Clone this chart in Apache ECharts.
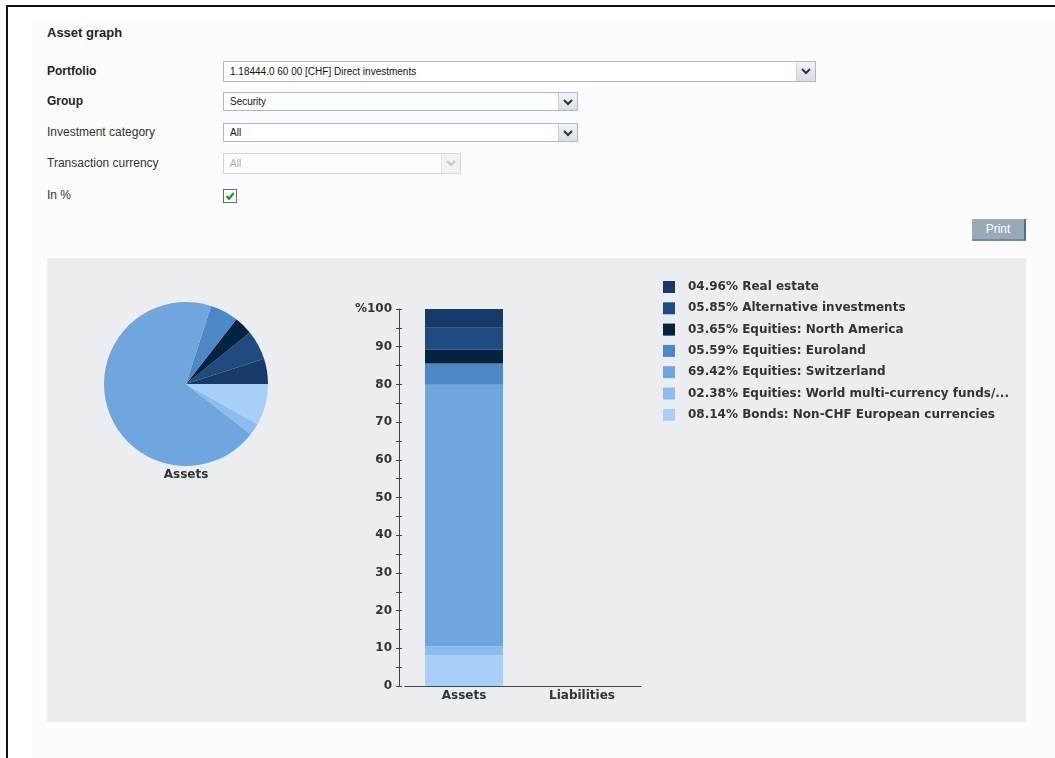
<!DOCTYPE html>
<html>
<head>
<meta charset="utf-8">
<script src="https://cdn.jsdelivr.net/npm/echarts@6/dist/echarts.min.js"></script>
<style>
  html, body { margin:0; padding:0; background:#ffffff; width:1055px; height:758px; overflow:hidden; font-family:"Liberation Sans", Arial, sans-serif; }
  #frameTop { position:absolute; left:6px; top:5px; width:1049px; height:2px; background:#111; }
  #frameLeft { position:absolute; left:6px; top:5px; width:2px; height:753px; background:#111; }
  #inner { position:absolute; left:32px; top:20px; width:1023px; height:738px; background:#fcfcfc; }
  .lbl { position:absolute; left:47px; font-size:12px; color:#333; line-height:14px; }
  .b { font-weight:bold; color:#222; }
  .sel { position:absolute; left:223px; height:19px; border:1px solid #a7b9cf; background:#fff; box-sizing:border-box; font-size:10px; color:#111; line-height:17px; padding-left:6px; }
  .sel .btn { position:absolute; right:0; top:0; width:19px; height:17px; border-left:1px solid #c7d0dc; background:linear-gradient(#f2f3f6,#d9dde4); box-sizing:border-box; }
  .sel.dis { border-color:#d2d6db; color:#aaa; background:#fdfdfd; }
  .sel.dis .btn { background:#f1f2f3; border-left-color:#e0e2e5; }
  .btn svg { position:absolute; left:4px; top:5px; }
  #chk { position:absolute; left:223px; top:189px; width:14px; height:14px; border:1px solid #4e6d8f; box-sizing:border-box; background:#fff; }
  #print { position:absolute; left:972px; top:219px; width:54px; height:22px; background:#98a9b8; border-right:2px solid #4f6f91; border-bottom:2px solid #6f8aa5; box-sizing:border-box; color:#fff; font-size:12px; text-align:center; line-height:20px; }
  #chart { position:absolute; left:47px; top:258px; width:979px; height:464px; background:#ecedf1; }
</style>
</head>
<body>
<div id="frameTop"></div>
<div id="frameLeft"></div>
<div id="inner"></div>

<div class="lbl b" style="top:26px;font-size:13px;">Asset graph</div>
<div class="lbl b" style="top:64px;">Portfolio</div>
<div class="lbl b" style="top:94px;">Group</div>
<div class="lbl" style="top:125px;">Investment category</div>
<div class="lbl" style="top:156px;">Transaction currency</div>
<div class="lbl" style="top:188px;">In %</div>

<div class="sel" style="top:61px;width:593px;height:21px;line-height:19px;">1.18444.0 60 00 [CHF] Direct investments<div class="btn" style="height:19px;"><svg width="10" height="8" viewBox="0 0 10 8"><path d="M1 2 L5 6 L9 2" stroke="#333" stroke-width="2" fill="none"/></svg></div></div>
<div class="sel" style="top:92px;width:355px;">Security<div class="btn"><svg width="10" height="8" viewBox="0 0 10 8"><path d="M1 2 L5 6 L9 2" stroke="#333" stroke-width="2" fill="none"/></svg></div></div>
<div class="sel" style="top:123px;width:355px;">All<div class="btn"><svg width="10" height="8" viewBox="0 0 10 8"><path d="M1 2 L5 6 L9 2" stroke="#333" stroke-width="2" fill="none"/></svg></div></div>
<div class="sel dis" style="top:153px;width:238px;height:21px;line-height:19px;">All<div class="btn" style="height:19px;"><svg width="10" height="8" viewBox="0 0 10 8"><path d="M1 2 L5 6 L9 2" stroke="#c4c7cc" stroke-width="2" fill="none"/></svg></div></div>
<div id="chk"><svg width="12" height="12" viewBox="0 0 12 12" style="position:absolute;left:0;top:0;"><path d="M2.5 6 L5 8.8 L9.8 3" stroke="#1e9a2a" stroke-width="2.2" fill="none"/></svg></div>
<div id="print">Print</div>

<div id="chart"></div>

<script>
// ---- data ----
const categories = ['Assets', 'Liabilities'];
const assetNames = [
  'Real estate',
  'Alternative investments',
  'Equities: North America',
  'Equities: Euroland',
  'Equities: Switzerland',
  'Equities: World multi-currency funds/...',
  'Bonds: Non-CHF European currencies'
];
const assetValues = [4.96, 5.85, 3.65, 5.59, 69.42, 2.38, 8.14];
const assetColors = ['#173a69', '#1f4b80', '#032341', '#4c88c6', '#6fa6de', '#8cbcef', '#aacff6'];
const yTicks = [0, 10, 20, 30, 40, 50, 60, 70, 80, 90, 100];

// ---- chart ----
const chart = echarts.init(document.getElementById('chart'));
const FONT = 'DejaVu Sans';

const pctOf = {};
assetNames.forEach((n, i) => { pctOf[n] = assetValues[i].toFixed(2).padStart(5, '0') + '%'; });

// stacked bar: bottom to top is the reverse of the legend order
const barSeries = [];
for (let i = assetNames.length - 1; i >= 0; i--) {
  barSeries.push({
    type: 'bar',
    name: assetNames[i],
    stack: 'total',
    barWidth: 78,
    itemStyle: { color: assetColors[i] },
    data: [assetValues[i], '-'],
    emphasis: { disabled: true }
  });
}

const option = {
  animation: false,
  backgroundColor: '#ecedf1',
  legend: {
    orient: 'vertical',
    left: 611,
    top: 18,
    itemWidth: 12,
    itemHeight: 12,
    itemGap: 9.3,
    icon: 'rect',
    data: assetNames.slice(),
    selectedMode: false,
    formatter: n => pctOf[n] + ' ' + n,
    textStyle: { fontFamily: FONT, fontWeight: 'bold', fontSize: 12, color: '#333', lineHeight: 12, padding: [0, 0, 0, 8] }
  },
  graphic: [{
    type: 'text',
    x: 139,
    y: 211,
    style: { text: 'Assets', textAlign: 'center', textVerticalAlign: 'top', font: 'bold 12px "DejaVu Sans"', fill: '#333' }
  }],
  grid: { left: 358, top: 51, width: 236, height: 377 },
  xAxis: {
    type: 'category',
    data: categories,
    axisLine: { lineStyle: { color: '#444', width: 1 } },
    axisTick: { show: false },
    axisLabel: { fontFamily: FONT, fontWeight: 'bold', fontSize: 12, color: '#333', margin: 4 }
  },
  yAxis: [{
    type: 'value',
    min: 0, max: 100, interval: 5,
    offset: 6,
    splitLine: { show: false },
    axisLine: { show: true, lineStyle: { color: '#444' } },
    axisTick: { show: true, length: 3, lineStyle: { color: '#444' } },
    axisLabel: {
      margin: 7,
      fontFamily: FONT, fontWeight: 'bold', fontSize: 12, color: '#333',
      formatter: v => (yTicks.indexOf(v) < 0 ? '' : (v === 100 ? '%' + v : String(v)))
    }
  }, {
    type: 'value',
    position: 'left',
    min: 0, max: 100, interval: 5,
    offset: 6,
    splitLine: { show: false },
    axisLine: { show: false },
    axisTick: { show: true, inside: true, length: 3, lineStyle: { color: '#444' } },
    axisLabel: { show: false }
  }],
  series: [{
    type: 'pie',
    name: 'Assets',
    center: [139, 126],
    radius: 82,
    startAngle: 0,
    clockwise: false,
    label: { show: false },
    labelLine: { show: false },
    emphasis: { disabled: true },
    data: assetNames.map((n, i) => ({ name: n, value: assetValues[i], itemStyle: { color: assetColors[i] } }))
  }].concat(barSeries)
};
chart.setOption(option);
</script>
</body>
</html>
